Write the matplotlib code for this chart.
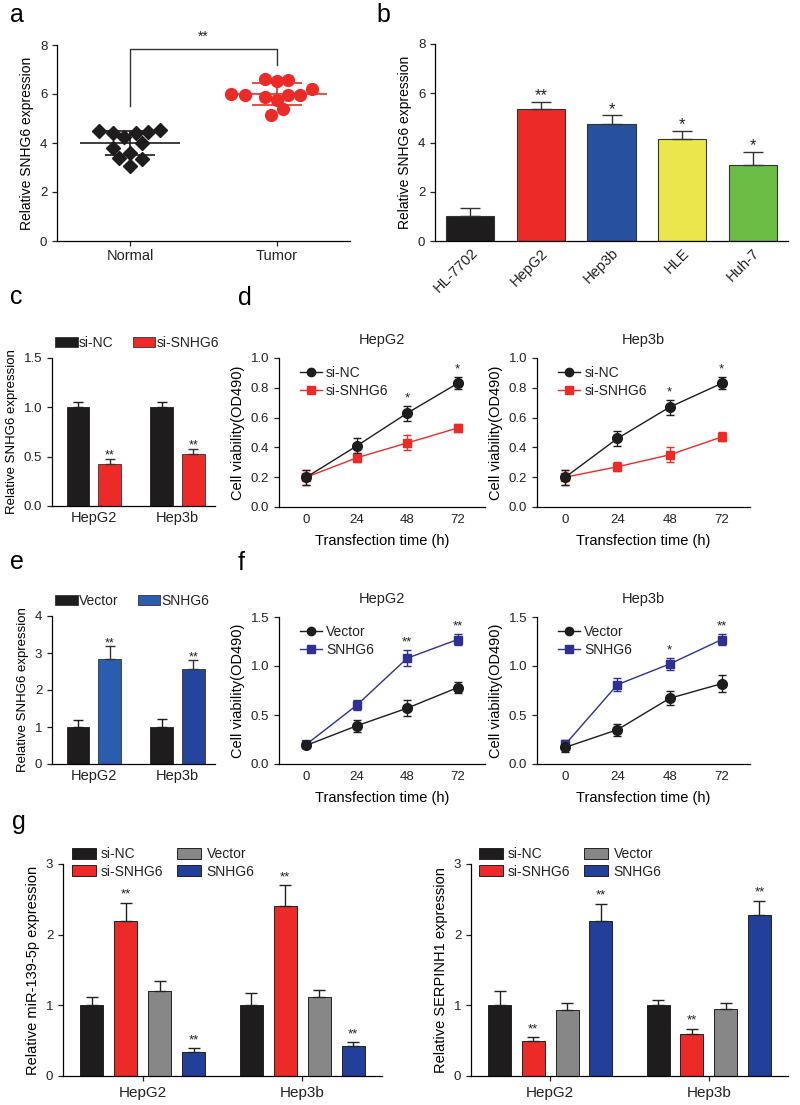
import numpy as np
import matplotlib
matplotlib.use("Agg")
import matplotlib.pyplot as plt
from matplotlib.patches import Patch
from matplotlib.lines import Line2D

plt.rcParams['font.family'] = ['Liberation Sans', 'DejaVu Sans']
plt.rcParams['axes.linewidth'] = 0.9
plt.rcParams['xtick.major.width'] = 0.9
plt.rcParams['ytick.major.width'] = 0.9
plt.rcParams['xtick.major.size'] = 3.5
plt.rcParams['ytick.major.size'] = 3.5
plt.rcParams['xtick.labelsize'] = 9.5
plt.rcParams['ytick.labelsize'] = 9.5
plt.rcParams['text.color'] = '#222222'
plt.rcParams['xtick.color'] = '#222222'
plt.rcParams['ytick.color'] = '#222222'

# ---- data ----
# a: scatter
normal_off = [-0.21, -0.12, -0.04, 0.04, 0.12, 0.20, -0.12, 0.08, 0.0, -0.08, 0.08, 0.0]
normal_val = [4.50, 4.39, 4.25, 4.39, 4.45, 4.52, 3.81, 3.98, 3.60, 3.39, 3.35, 3.08]
tumor_off = [-0.08, 0.0, 0.08, -0.31, -0.22, -0.08, 0.0, 0.08, 0.16, 0.24, 0.04, -0.04]
tumor_val = [6.63, 6.53, 6.57, 5.99, 5.95, 5.89, 5.75, 5.95, 5.95, 6.19, 5.37, 5.14]

# b: cell lines
lines_b = ['HL-7702', 'HepG2', 'Hep3b', 'HLE', 'Huh-7']
vals_b = [1.0, 5.35, 4.77, 4.14, 3.10]
err_b = [0.36, 0.29, 0.33, 0.33, 0.50]
stars_b = ['', '**', '*', '*', '*']

# c: knockdown
groups = ['HepG2', 'Hep3b']
c_sinc = [1.0, 1.0]
c_sinc_err = [0.05, 0.05]
c_sisn = [0.43, 0.53]
c_sisn_err = [0.05, 0.05]

# e: overexpression
e_vec = [1.0, 1.0]
e_vec_err = [0.18, 0.22]
e_sn = [2.85, 2.57]
e_sn_err = [0.33, 0.23]

# d, f: viability
hours = [0, 24, 48, 72]
d_hepg2_nc = [0.20, 0.41, 0.63, 0.83]
d_hepg2_nc_err = [0.05, 0.05, 0.05, 0.04]
d_hepg2_si = [0.20, 0.33, 0.43, 0.53]
d_hepg2_si_err = [0.05, 0.03, 0.05, 0.03]
d_hep3b_nc = [0.20, 0.46, 0.67, 0.83]
d_hep3b_nc_err = [0.05, 0.05, 0.05, 0.04]
d_hep3b_si = [0.20, 0.27, 0.35, 0.47]
d_hep3b_si_err = [0.05, 0.03, 0.05, 0.03]
f_hepg2_vec = [0.19, 0.39, 0.57, 0.78]
f_hepg2_vec_err = [0.03, 0.06, 0.08, 0.06]
f_hepg2_sn = [0.20, 0.60, 1.08, 1.27]
f_hepg2_sn_err = [0.03, 0.05, 0.08, 0.06]
f_hep3b_vec = [0.17, 0.35, 0.67, 0.82]
f_hep3b_vec_err = [0.05, 0.06, 0.07, 0.09]
f_hep3b_sn = [0.20, 0.81, 1.02, 1.27]
f_hep3b_sn_err = [0.05, 0.07, 0.06, 0.06]

# g: four-condition bars
g_conds = ['si-NC', 'si-SNHG6', 'Vector', 'SNHG6']
g_mir = [[1.0, 1.0], [2.2, 2.4], [1.2, 1.12], [0.34, 0.42]]
g_mir_err = [[0.12, 0.18], [0.25, 0.30], [0.15, 0.09], [0.05, 0.06]]
g_mir_stars = ['', '**', '', '**']
g_ser = [[1.0, 1.0], [0.5, 0.6], [0.93, 0.95], [2.2, 2.28]]
g_ser_err = [[0.2, 0.07], [0.05, 0.07], [0.11, 0.08], [0.24, 0.2]]
g_ser_stars = ['', '**', '', '**']

BLACK = '#1e1c1d'
RED = '#ec2a27'
BLUE_B = '#27509f'
BLUE_F = '#2e3192'
BLUE_G = '#22409a'
GRAY = '#878787'

W, H = 800, 1105
fig = plt.figure(figsize=(W / 100, H / 100), dpi=100)


def px_axes(l, r, b, t):
    return fig.add_axes([l / W, 1 - b / H, (r - l) / W, (b - t) / H])


def style(ax):
    ax.spines['top'].set_visible(False)
    ax.spines['right'].set_visible(False)


def panel_label(x, y, s):
    fig.text(x / W, 1 - y / H, s, fontsize=18, ha='left', va='center', color='black')


# ---- a ----
ax = px_axes(57, 350, 241, 45)
style(ax)
ax.plot(np.array(normal_off), normal_val, 'D', color=BLACK, ms=7, ls='none')
ax.plot(1 + np.array(tumor_off), tumor_val, 'o', color=RED, ms=8.5, ls='none')
for xc, m, sd, col in [(0, 4.0, 0.5, BLACK), (1, 6.0, 0.45, RED)]:
    ax.hlines(m, xc - 0.34, xc + 0.34, color=col, lw=1.2)
    ax.hlines([m - sd, m + sd], xc - 0.17, xc + 0.17, color=col, lw=1.2)
    ax.vlines(xc, m - sd, m + sd, color=col, lw=1.2)
ax.plot([0, 0, 1, 1], [5.5, 7.85, 7.85, 7.2], color='#333333', lw=1.0, clip_on=False)
ax.text(0.5, 8.05, '**', ha='center', va='bottom', fontsize=10)
ax.set_xlim(-0.5, 1.5)
ax.set_ylim(0, 8)
ax.set_yticks([0, 2, 4, 6, 8])
ax.set_xticks([0, 1])
ax.set_xticklabels(['Normal', 'Tumor'], fontsize=10.5)
ax.tick_params(axis='x', pad=2.5)
ax.set_ylabel('Relative SNHG6 expression', fontsize=10)
panel_label(10, 15, 'a')

# ---- b ----
ax = px_axes(435, 788, 241, 44)
style(ax)
xb = np.arange(len(lines_b))
ax.bar(xb, vals_b, width=0.68, color=[BLACK, RED, BLUE_B, '#ebe64b', '#6cbd45'],
       edgecolor='#333333', linewidth=0.8)
ax.errorbar(xb, vals_b, yerr=[np.zeros(len(xb)), err_b], fmt='none', ecolor='#333333',
            elinewidth=1.0, capsize=7, capthick=1.0)
for i, s in enumerate(stars_b):
    if s:
        ax.text(xb[i], vals_b[i] + err_b[i] - 0.05, s, ha='center', va='bottom', fontsize=12)
ax.set_xlim(-0.5, 4.5)
ax.set_ylim(0, 8)
ax.set_yticks([0, 2, 4, 6, 8])
ax.set_xticks(xb)
ax.set_xticklabels(lines_b, rotation=45, ha='right', rotation_mode='anchor', fontsize=10.5)
ax.tick_params(axis='x', length=0)
ax.set_ylabel('Relative SNHG6 expression', fontsize=10)
panel_label(376, 15, 'b')


# ---- c / e ----
def two_bar(ax, a, a_err, b, b_err, colb, ylim, yticks, fmt, labels):
    style(ax)
    xg = np.arange(len(groups))
    ax.bar(xg - 0.19, a, width=0.27, color=BLACK, edgecolor=BLACK, linewidth=0.6)
    ax.bar(xg + 0.19, b, width=0.27, color=colb, edgecolor='#333333', linewidth=0.6)
    ax.errorbar(xg - 0.19, a, yerr=[[0, 0], a_err], fmt='none', ecolor=BLACK,
                elinewidth=1.0, capsize=3.5, capthick=1.0)
    ax.errorbar(xg + 0.19, b, yerr=[[0, 0], b_err], fmt='none', ecolor='#333333',
                elinewidth=1.0, capsize=3.5, capthick=1.0)
    for i in range(len(xg)):
        ax.text(xg[i] + 0.19, b[i] + b_err[i] - ylim[1] * 0.02, '**', ha='center',
                va='bottom', fontsize=9)
    ax.set_xlim(-0.5, 1.45)
    ax.set_ylim(*ylim)
    ax.set_yticks(yticks)
    ax.set_yticklabels([fmt.format(v) for v in yticks])
    ax.set_xticks(xg)
    ax.set_xticklabels(groups, fontsize=10.5)
    ax.tick_params(axis='x', length=0)
    ax.set_ylabel('Relative SNHG6 expression', fontsize=9.5)
    c0 = colb[0] if isinstance(colb, list) else colb
    handles = [Patch(facecolor=BLACK, edgecolor='#333333', lw=0.6),
               Patch(facecolor=c0, edgecolor='#333333', lw=0.6)]
    ax.legend(handles, labels, ncol=2, loc='lower left', bbox_to_anchor=(-0.03, 1.0),
              frameon=False, fontsize=10, handlelength=1.6, handleheight=0.8,
              handletextpad=0.1, columnspacing=1.4, borderaxespad=0.2)


ax = px_axes(52, 215, 506, 358)
two_bar(ax, c_sinc, c_sinc_err, c_sisn, c_sisn_err, RED, (0, 1.5), [0.0, 0.5, 1.0, 1.5],
        '{:.1f}', ['si-NC', 'si-SNHG6'])
panel_label(10, 297, 'c')

ax = px_axes(52, 215, 764, 616)
two_bar(ax, e_vec, e_vec_err, e_sn, e_sn_err, ['#2a5db0', '#25449c'], (0, 4), [0, 1, 2, 3, 4],
        '{:d}', ['Vector', 'SNHG6'])
panel_label(10, 562, 'e')


# ---- d / f ----
def line_panel(ax, title, y1, e1, y2, e2, c2, m2, labels, ylim, yticks, stars):
    style(ax)
    ax.errorbar(hours, y2, yerr=e2, color=c2, marker=m2, ms=6, lw=1.0,
                elinewidth=1.0, capsize=3, capthick=1.0)
    ax.errorbar(hours, y1, yerr=e1, color=BLACK, marker='o', ms=7, lw=1.0,
                elinewidth=1.0, capsize=3, capthick=1.0)
    for i, s in enumerate(stars):
        if s:
            top = max(y1[i] + e1[i], y2[i] + e2[i])
            ax.text(hours[i], top + ylim[1] * 0.01, s, ha='center', va='bottom', fontsize=9.5)
    ax.set_xlim(-13, 85)
    ax.set_ylim(*ylim)
    ax.set_yticks(yticks)
    ax.set_yticklabels(['{:.1f}'.format(v) for v in yticks])
    ax.set_xticks(hours)
    ax.tick_params(axis='x', length=0, pad=5)
    ax.set_xlabel('Transfection time (h)', fontsize=10.5, labelpad=6)
    ax.set_ylabel('Cell viability(OD490)', fontsize=10.5)
    ax.set_title(title, fontsize=10.5, pad=10)
    handles = [Line2D([], [], color=BLACK, marker='o', ms=6, lw=1.0),
               Line2D([], [], color=c2, marker=m2, ms=5.5, lw=1.0)]
    ax.legend(handles, labels, loc='upper left', bbox_to_anchor=(0.04, 1.03), frameon=False,
              fontsize=10, handlelength=1.6, handletextpad=0.3, labelspacing=0.3)


ax = px_axes(279, 485, 507, 358)
line_panel(ax, 'HepG2', d_hepg2_nc, d_hepg2_nc_err, d_hepg2_si, d_hepg2_si_err, RED, 's',
           ['si-NC', 'si-SNHG6'], (0, 1.0), [0.0, 0.2, 0.4, 0.6, 0.8, 1.0],
           ['', '', '*', '*'])
ax = px_axes(537, 750, 507, 358)
line_panel(ax, 'Hep3b', d_hep3b_nc, d_hep3b_nc_err, d_hep3b_si, d_hep3b_si_err, RED, 's',
           ['si-NC', 'si-SNHG6'], (0, 1.0), [0.0, 0.2, 0.4, 0.6, 0.8, 1.0],
           ['', '', '*', '*'])
panel_label(238, 298, 'd')

ax = px_axes(279, 485, 764, 617)
line_panel(ax, 'HepG2', f_hepg2_vec, f_hepg2_vec_err, f_hepg2_sn, f_hepg2_sn_err, BLUE_F, 's',
           ['Vector', 'SNHG6'], (0, 1.5), [0.0, 0.5, 1.0, 1.5], ['', '', '**', '**'])
ax = px_axes(537, 750, 764, 617)
line_panel(ax, 'Hep3b', f_hep3b_vec, f_hep3b_vec_err, f_hep3b_sn, f_hep3b_sn_err, BLUE_F, 's',
           ['Vector', 'SNHG6'], (0, 1.5), [0.0, 0.5, 1.0, 1.5], ['', '', '*', '**'])
panel_label(238, 563, 'f')


# ---- g ----
def four_bar(ax, vals, errs, stars, ylabel, leg_x):
    style(ax)
    cols = [BLACK, RED, GRAY, BLUE_G]
    offs = [-0.32, -0.107, 0.107, 0.32]
    xg = np.arange(len(groups))
    for k in range(4):
        ax.bar(xg + offs[k], vals[k], width=0.145, color=cols[k], edgecolor='#222222',
               linewidth=0.7, label=g_conds[k])
        ax.errorbar(xg + offs[k], vals[k], yerr=[[0, 0], errs[k]], fmt='none',
                    ecolor='#222222', elinewidth=1.0, capsize=4, capthick=1.0)
        if stars[k]:
            for i in range(len(xg)):
                ax.text(xg[i] + offs[k], vals[k][i] + errs[k][i] + 0.03, stars[k],
                        ha='center', va='bottom', fontsize=9.5)
    ax.set_xlim(-0.5, 1.5)
    ax.set_ylim(0, 3)
    ax.set_yticks([0, 1, 2, 3])
    ax.set_xticks(xg)
    ax.set_xticklabels(groups, fontsize=11)
    ax.set_ylabel(ylabel, fontsize=10.5)
    h, l = ax.get_legend_handles_labels()
    ax.legend(h, l, ncol=2, loc='upper left', bbox_to_anchor=(leg_x, 1.08), frameon=False,
              fontsize=10, handlelength=1.7, handleheight=0.8, handletextpad=0.4,
              columnspacing=1.0, labelspacing=0.25, borderpad=0, borderaxespad=0)


ax = px_axes(63, 382, 1076, 864)
four_bar(ax, g_mir, g_mir_err, g_mir_stars, 'Relative miR-139-5p expression', 0.028)
ax = px_axes(471, 788, 1076, 864)
four_bar(ax, g_ser, g_ser_err, g_ser_stars, 'Relative SERPINH1 expression', 0.025)
panel_label(12, 822, 'g')

fig.savefig('out.png', dpi=100, facecolor='white')
